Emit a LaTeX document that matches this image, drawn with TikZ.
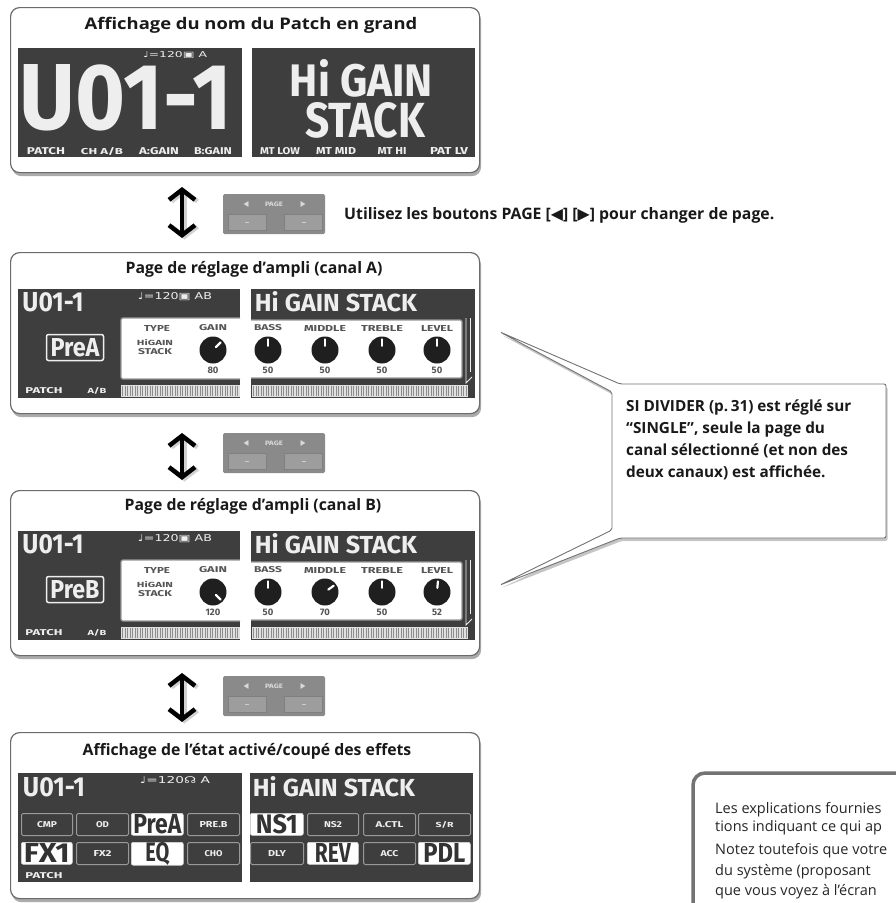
\documentclass[tikz,border=0pt]{standalone}
\usepackage{fontspec}
\setmainfont{Open Sans}
\newfontfamily\lcdf{Fira Sans}
\newfontfamily\symf{DejaVu Sans}
\usetikzlibrary{shadows,arrows.meta,calc}
\definecolor{lcdbg}{HTML}{3E3E3E}
\definecolor{lcdfg}{HTML}{EEEEEE}
\definecolor{lcdink}{HTML}{555555}
\definecolor{frame}{HTML}{6B6B6B}
\definecolor{btn}{HTML}{8A8A8A}
\definecolor{btnkey}{HTML}{9D9D9D}
\newcommand\lcdtx[3]{\resizebox{#1pt}{#2pt}{\lcdf\bfseries #3}}
\newcommand\symtx[3]{\resizebox{#1pt}{#2pt}{\symf #3}}
\newcommand\knob[5]{%
  \node[knob] (#1) at (#2,#3) {};
  \draw[knobind] ($(#1.center)!0.3!(#1.#5)$) -- ($(#1.center)!0.78!(#1.#5)$);
  \node[ink] (#1v) at (#2,#3+20) {\resizebox{!}{6.5pt}{\lcdf\bfseries #4}};%
}
\newcommand\fxcell[6]{\node[#2, minimum width=#5pt] (#1) at (#3,#4) {#6};}
\newcommand\pagebtn[2]{%
  \node[pagebtn] (#1) at (274,#2) {};
  \node[pagekey] (#1l) at (247,#2+8.5) {\color{black!20}\rule{4pt}{1pt}};
  \node[pagekey] (#1r) at (303.5,#2+8.5) {\color{black!20}\rule{4pt}{1pt}};
  \node[btntxt] (#1a) at (246,#2-10) {\symtx{5}{5}{◀}};
  \node[btntxt] (#1t) at (274,#2-10) {\lcdtx{18}{4.5}{PAGE}};
  \node[btntxt] (#1b) at (303,#2-10) {\symtx{5}{5}{▶}};%
}
\newcommand\amppage[5]{%
\begin{scope}[shift={(0,#2)}]
  \node[lcd, minimum width=222pt, minimum height=109pt] (#1L) at (18,289) {};
  \node[lcd, minimum width=224pt, minimum height=109pt] (#1R) at (251,289) {};
  \fill[white] (121,318) rectangle (240,379);
  \draw[innerline] (240,318) -- (121,318) -- (121,379) -- (240,379);
  \fill[white] (251,320) rectangle (462,378);
  \draw[innerline] (251,320) -- (462,320) -- (462,378) -- (251,378);
  \fill[rulerbg] (121,385) rectangle (240,397);
  \fill[rulerbg] (252,385) rectangle (468,397);
  \foreach \t in {122.5,125,...,239} {\draw[ruler] (\t,386) -- (\t,396);}
  \foreach \t in {253.5,256,...,467} {\draw[ruler] (\t,386) -- (\t,396);}
  \draw[lcdfg, line width=.8pt] (466,318) -- (466,383) -- (472,377);
  \draw[lcdfg, line width=.8pt] (470,318) -- (470,372);
  \node[lab] (#1u) at (53,302) {\lcdtx{61}{19}{U01-1}};
  \node[lab] (#1t) at (175,297) {\symtx{74}{7}{♩=120▣ AB}};
  \node[prebox] (#1p) at (75,347.5) {\lcdtx{49}{18}{#3}};
  \node[ink] (#1ty) at (157,328) {\lcdtx{26}{6}{TYPE}};
  \node[ink] (#1ga) at (213,328) {\lcdtx{28}{6}{GAIN}};
  \node[ink] (#1h1) at (155,343) {\lcdtx{36}{6}{HiGAIN}};
  \node[ink] (#1h2) at (155,352) {\lcdtx{34}{6}{STACK}};
  \knob{#1kg}{213}{350}{#4}{#5}
  \node[lab] (#1pa) at (44,391) {\lcdtx{37}{6}{PATCH}};
  \node[lab] (#1ab) at (97,391) {\lcdtx{19}{6}{A/B}};
  \node[lab] (#1hg) at (336,302) {\lcdtx{162}{20}{Hi GAIN STACK}};
  \node[ink] (#1b1) at (268,328) {\lcdtx{28}{6}{BASS}};
  \node[ink] (#1b2) at (325,328) {\lcdtx{42}{6}{MIDDLE}};
  \node[ink] (#1b3) at (382,328) {\lcdtx{42}{6}{TREBLE}};
  \node[ink] (#1b4) at (437,328) {\lcdtx{32}{6}{LEVEL}};
\end{scope}}

\begin{document}
\begin{tikzpicture}[x=1pt,y=-1pt,
  panel/.style={draw=frame, line width=1.2pt, fill=white, rounded corners=9pt, anchor=north west, inner sep=0pt,
    drop shadow={shadow xshift=1.5pt, shadow yshift=-3.5pt, fill=black!60, opacity=.55}},
  paneltitle/.style={font=\bfseries\fontsize{15.8}{18}\selectfont, text=black!90, inner sep=0pt},
  lcd/.style={fill=lcdbg, anchor=north west, inner sep=0pt},
  lab/.style={inner sep=0pt, text=lcdfg},
  ink/.style={inner sep=0pt, text=lcdink},
  innerline/.style={draw=black!40, line width=1.3pt, rounded corners=2pt},
  rulerbg/.style={fill=black!12},
  ruler/.style={draw=black!45, line width=.5pt},
  prebox/.style={draw=lcdfg, line width=1.5pt, rounded corners=2pt, minimum width=57pt, minimum height=26pt, inner sep=0pt, text=lcdfg},
  knob/.style={circle, fill=black!88, minimum size=27pt, inner sep=0pt},
  knobind/.style={draw=white, line width=2.2pt, line cap=round},
  offcell/.style={fill=lcdbg, draw=black!40, line width=1pt, rounded corners=1.5pt, anchor=north west, inner sep=0pt, minimum height=22pt, text=lcdfg},
  oncell/.style={fill=white, draw=black!15, line width=.6pt, rounded corners=2pt, anchor=north west, inner sep=0pt, minimum height=22pt, text=black!80},
  pagebtn/.style={fill=btn, rounded corners=1.5pt, minimum width=102pt, minimum height=40pt, inner sep=0pt},
  pagekey/.style={fill=btnkey, draw=black!50, line width=.6pt, minimum width=38pt, minimum height=16pt, inner sep=0pt},
  btntxt/.style={inner sep=0pt, text=black!15},
  dblarrow/.style={line width=4.5pt, {Straight Barb[length=10pt,width=26pt]}-{Straight Barb[length=10pt,width=26pt]}},
  arrowshade/.style={dblarrow, draw=black!18},
  calloutbox/.style={draw=black!55, line width=.9pt, fill=white, rounded corners=2pt,
    drop shadow={shadow xshift=1.5pt, shadow yshift=-3pt, fill=black!50, opacity=.45}},
  calltext/.style={font=\bfseries\fontsize{15.3}{21.7}\selectfont, text=black!90, align=left, inner sep=0pt, anchor=north west},
  notetext/.style={font=\fontsize{14.5}{17}\selectfont, text=black!85, inner sep=0pt, anchor=base west},
]
\useasboundingbox (0,0) rectangle (896,903);
\fill[white] (0,0) rectangle (896,903);

% ---------- Panel 1
\node[panel, minimum width=469pt, minimum height=165pt] (p1) at (10,7) {};
\node[paneltitle, font=\bfseries\fontsize{16}{18}\selectfont] (p1t) at (251,25) {\scalebox{1.15}[1]{Affichage du nom du Patch en grand}};
\node[lcd, minimum width=224pt, minimum height=109pt] (p1L) at (18,48) {};
\node[lcd, minimum width=223pt, minimum height=109pt] (p1R) at (252,48) {};
\node[lab] (p1tm) at (175,55) {\symtx{64}{6}{♩=120▣ A}};
\node[lab] (p1u) at (126,97.5) {\lcdtx{212}{65}{U01-1}};
\node[lab] (p1hi) at (361.5,78.5) {\lcdtx{143}{37}{Hi GAIN}};
\node[lab] (p1st) at (365,120.5) {\lcdtx{120}{35}{STACK}};
\node[lab] (p1b1) at (46,151) {\lcdtx{38}{7}{PATCH}};
\node[lab] (p1b2) at (102,151) {\lcdtx{42}{7}{CH A/B}};
\node[lab] (p1b3) at (159,151) {\lcdtx{40}{7}{A:GAIN}};
\node[lab] (p1b4) at (213,151) {\lcdtx{38}{7}{B:GAIN}};
\node[lab] (p1b5) at (280,151) {\lcdtx{40}{7}{MT LOW}};
\node[lab] (p1b6) at (336,151) {\lcdtx{40}{7}{MT MID}};
\node[lab] (p1b7) at (392,151) {\lcdtx{29}{7}{MT HI}};
\node[lab] (p1b8) at (449,151) {\lcdtx{38}{7}{PAT LV}};

% ---------- arrow 1 and PAGE button
\coordinate (a1t) at (182,187); \coordinate (a1b) at (182,238);
\draw[arrowshade] ([xshift=2.5pt,yshift=-1.5pt]a1t) -- ([xshift=2.5pt,yshift=-1.5pt]a1b);
\draw[dblarrow] (a1t) -- (a1b);
\pagebtn{b1}{214}
\node[font=\bfseries\fontsize{15.8}{18}\selectfont, anchor=west, inner sep=0pt, text=black!90] (instr) at (344,215)
  {Utilisez les boutons PAGE [{\symf ◀}] [{\symf ▶}] pour changer de page.};

% ---------- Panel 2
\node[panel, minimum width=469pt, minimum height=161pt] (p2) at (10,252) {};
\node[paneltitle] (p2t) at (254,269) {Page de réglage d’ampli (canal A)};
\amppage{q}{0}{PreA}{80}{45}
\knob{qk1}{268}{350}{50}{90}
\knob{qk2}{325}{350}{50}{90}
\knob{qk3}{382}{350}{50}{90}
\knob{qk4}{437}{350}{50}{90}

% ---------- arrow 2
\coordinate (a2t) at (182,433); \coordinate (a2b) at (182,480);
\draw[arrowshade] ([xshift=2.5pt,yshift=-1.5pt]a2t) -- ([xshift=2.5pt,yshift=-1.5pt]a2b);
\draw[dblarrow] (a2t) -- (a2b);
\pagebtn{b2}{453}

% ---------- Panel 3
\node[panel, minimum width=469pt, minimum height=165pt] (p3) at (10,490) {};
\node[paneltitle] (p3t) at (253,506) {Page de réglage d’ampli (canal B)};
\amppage{r}{242}{PreB}{120}{315}
\knob{rk1}{268}{592}{50}{90}
\knob{rk2}{325}{592}{70}{36}
\knob{rk3}{382}{592}{50}{90}
\knob{rk4}{437}{592}{52}{85}

% ---------- arrow 3
\coordinate (a3t) at (182,673); \coordinate (a3b) at (182,722);
\draw[arrowshade] ([xshift=2.5pt,yshift=-1.5pt]a3t) -- ([xshift=2.5pt,yshift=-1.5pt]a3b);
\draw[dblarrow] (a3t) -- (a3b);
\pagebtn{b3}{696}

% ---------- Panel 4
\node[panel, minimum width=469pt, minimum height=166pt] (p4) at (10,732) {};
\node[paneltitle] (p4t) at (247,751) {Affichage de l’état activé/coupé des effets};
\node[lcd, minimum width=224pt, minimum height=109pt] (p4L) at (18,773) {};
\node[lcd, minimum width=223pt, minimum height=109pt] (p4R) at (250,773) {};
\node[lab] (p4u) at (54,787.5) {\lcdtx{62}{19}{U01-1}};
\node[lab] (p4tm) at (175,780) {\symtx{70}{7}{♩=120☊ A}};
\node[lab] (p4hg) at (334,787) {\lcdtx{162}{20}{Hi GAIN STACK}};
\fxcell{c1}{offcell}{21}{813}{51}{\lcdtx{20}{6}{CMP}}
\fxcell{c2}{offcell}{76}{813}{52}{\lcdtx{13}{6}{OD}}
\fxcell{c3}{oncell}{131}{813}{52}{\lcdtx{48}{19}{PreA}}
\fxcell{c4}{offcell}{187}{813}{52}{\lcdtx{28}{6}{PRE.B}}
\fxcell{c5}{oncell}{21}{842}{51}{\lcdtx{46}{19}{FX1}}
\fxcell{c6}{offcell}{76}{842}{52}{\lcdtx{18}{6}{FX2}}
\fxcell{c7}{oncell}{131}{842}{52}{\lcdtx{24}{19}{EQ}}
\fxcell{c8}{offcell}{187}{842}{52}{\lcdtx{18}{6}{CHO}}
\fxcell{c9}{oncell}{250}{813}{53}{\lcdtx{42}{19}{NS1}}
\fxcell{c10}{offcell}{307}{813}{51}{\lcdtx{18}{6}{NS2}}
\fxcell{c11}{offcell}{363}{813}{52}{\lcdtx{28}{6}{A.CTL}}
\fxcell{c12}{offcell}{418}{813}{52}{\lcdtx{18}{6}{S/R}}
\fxcell{c13}{offcell}{250}{842}{53}{\lcdtx{18}{6}{DLY}}
\fxcell{c14}{oncell}{307}{842}{51}{\lcdtx{36}{19}{REV}}
\fxcell{c15}{offcell}{363}{842}{52}{\lcdtx{18}{6}{ACC}}
\fxcell{c16}{oncell}{418}{842}{52}{\lcdtx{42}{19}{PDL}}
\node[lab] (p4pa) at (44,876) {\lcdtx{37}{6}{PATCH}};

% ---------- callout
\coordinate (tipA) at (500,332); \coordinate (tipB) at (500,585);
\path[calloutbox] (tipA) -- (620,384) -- (886,384) -- (886,538) -- (620,538) -- (tipB) -- (612,530) -- (612,392) -- cycle;
\node[calltext] (ct) at (626,400) {SI DIVIDER (p.\,31) est réglé sur\\“SINGLE”, seule la page du\\canal sélectionné (et non des\\deux canaux) est affichée.};

% ---------- bottom-right note (cut by the page edge)
\begin{scope}
\clip (0,0) rectangle (896,903);
\draw[draw=black!55, line width=3.5pt, rounded corners=12pt] (693,915) -- (693,773) -- (915,773);
\node[notetext] (n1) at (715,813) {Les explications fournies};
\node[notetext] (n2) at (715,831) {tions indiquant ce qui ap};
\node[notetext] (n3) at (715,854) {Notez toutefois que votre};
\node[notetext] (n4) at (715,875) {du système (proposant};
\node[notetext] (n5) at (715,895) {que vous voyez à l’écran};
\end{scope}
\end{tikzpicture}
\end{document}
